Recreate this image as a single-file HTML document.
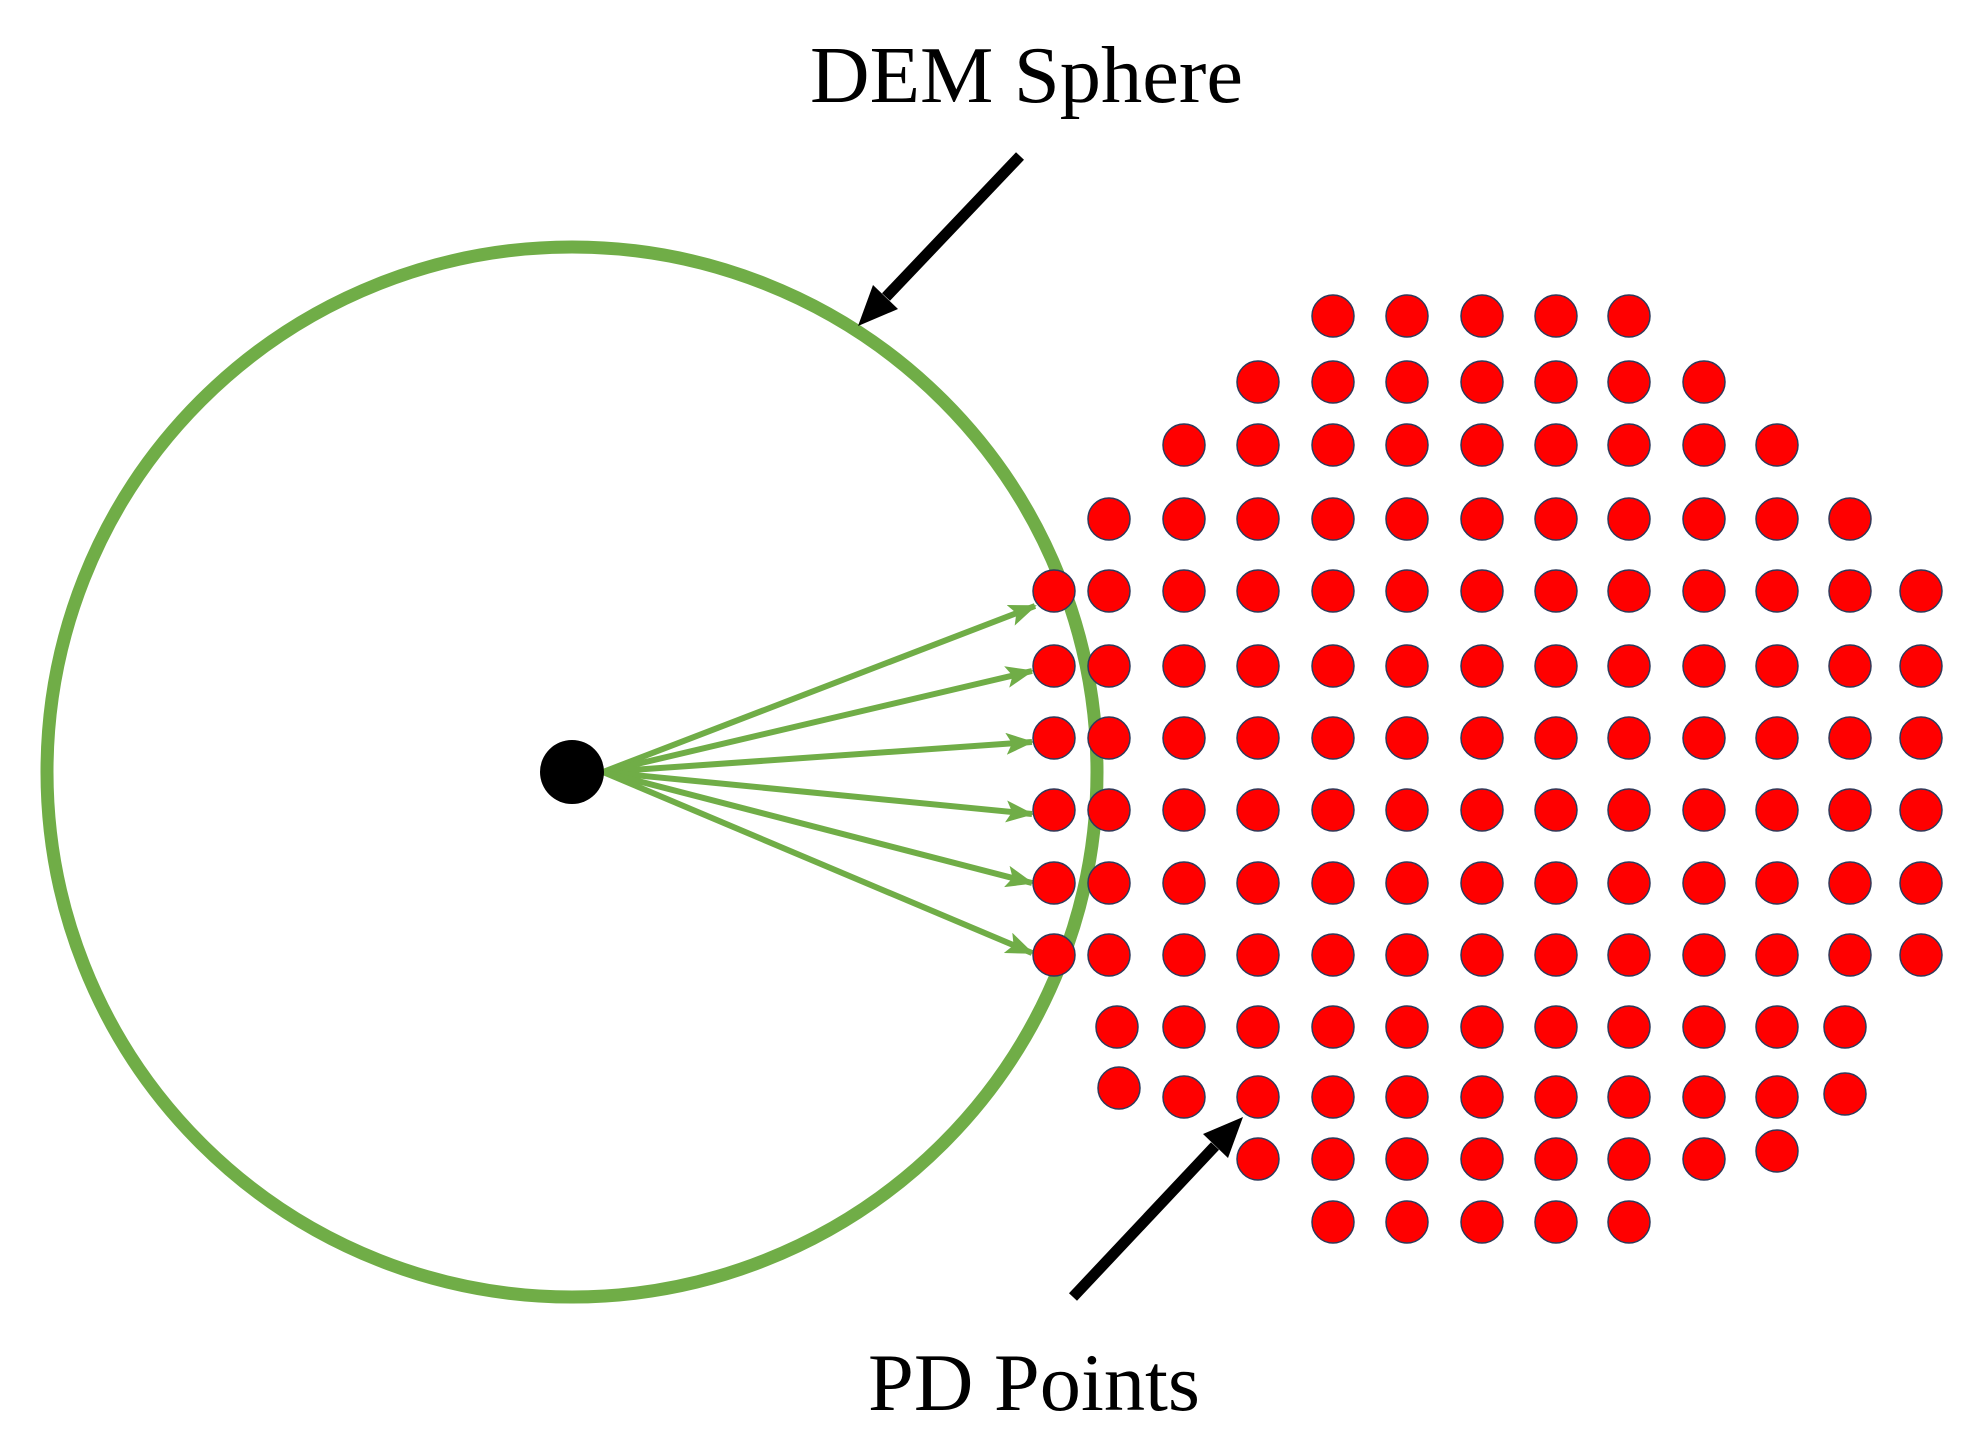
<!DOCTYPE html>
<html><head><meta charset="utf-8"><style>html,body{margin:0;padding:0;background:#fff}svg{display:block}</style></head>
<body>
<svg width="1975" height="1440" viewBox="0 0 1975 1440" xmlns="http://www.w3.org/2000/svg">
<defs>
<marker id="ga" markerUnits="userSpaceOnUse" markerWidth="28" markerHeight="22" refX="26" refY="11" orient="auto"><path d="M0,0 L28,11 L0,22 L6,11 Z" fill="#70ad47"/></marker>
</defs>
<rect width="1975" height="1440" fill="#fff"/>
<circle cx="572" cy="772" r="525" fill="none" stroke="#70ad47" stroke-width="13"/>
<g stroke="#70ad47" stroke-width="6" marker-end="url(#ga)">
<line x1="603" y1="772" x2="1035" y2="606"/>
<line x1="603" y1="772" x2="1032" y2="671"/>
<line x1="603" y1="772" x2="1032" y2="742"/>
<line x1="603" y1="772" x2="1032" y2="814"/>
<line x1="603" y1="772" x2="1032" y2="883"/>
<line x1="603" y1="772" x2="1032" y2="953"/>
</g>
<circle cx="572" cy="772" r="32" fill="#000"/>
<line x1="1020" y1="156" x2="886" y2="297" stroke="#000" stroke-width="11"/>
<polygon points="858,326 898,309 873,285" fill="#000"/>
<line x1="1073" y1="1297" x2="1215" y2="1146" stroke="#000" stroke-width="11"/>
<polygon points="1243,1117 1228,1158 1203,1134" fill="#000"/>
<text x="810" y="102" font-family="Liberation Serif, serif" font-size="80" textLength="433" lengthAdjust="spacingAndGlyphs">DEM Sphere</text>
<text x="868" y="1410" font-family="Liberation Serif, serif" font-size="82" textLength="332" lengthAdjust="spacingAndGlyphs">PD Points</text>
<g fill="#ff0000" stroke="#2f3a5a" stroke-width="1.5">
<circle cx="1333" cy="316" r="21"/><circle cx="1407" cy="316" r="21"/><circle cx="1482" cy="316" r="21"/><circle cx="1556" cy="316" r="21"/><circle cx="1629" cy="316" r="21"/>
<circle cx="1258" cy="382" r="21"/><circle cx="1333" cy="382" r="21"/><circle cx="1407" cy="382" r="21"/><circle cx="1482" cy="382" r="21"/><circle cx="1556" cy="382" r="21"/><circle cx="1629" cy="382" r="21"/><circle cx="1704" cy="382" r="21"/>
<circle cx="1184" cy="445" r="21"/><circle cx="1258" cy="445" r="21"/><circle cx="1333" cy="445" r="21"/><circle cx="1407" cy="445" r="21"/><circle cx="1482" cy="445" r="21"/><circle cx="1556" cy="445" r="21"/><circle cx="1629" cy="445" r="21"/><circle cx="1704" cy="445" r="21"/><circle cx="1777" cy="445" r="21"/>
<circle cx="1109" cy="519" r="21"/><circle cx="1184" cy="519" r="21"/><circle cx="1258" cy="519" r="21"/><circle cx="1333" cy="519" r="21"/><circle cx="1407" cy="519" r="21"/><circle cx="1482" cy="519" r="21"/><circle cx="1556" cy="519" r="21"/><circle cx="1629" cy="519" r="21"/><circle cx="1704" cy="519" r="21"/><circle cx="1777" cy="519" r="21"/><circle cx="1850" cy="519" r="21"/>
</g>
<g fill="#ff0000" stroke="#2f3a5a" stroke-width="1.5">
<g id="r4"><circle cx="1054" cy="591" r="21"/><circle cx="1109" cy="591" r="21"/><circle cx="1184" cy="591" r="21"/><circle cx="1258" cy="591" r="21"/><circle cx="1333" cy="591" r="21"/><circle cx="1407" cy="591" r="21"/><circle cx="1482" cy="591" r="21"/><circle cx="1556" cy="591" r="21"/><circle cx="1629" cy="591" r="21"/><circle cx="1704" cy="591" r="21"/><circle cx="1777" cy="591" r="21"/><circle cx="1850" cy="591" r="21"/><circle cx="1921" cy="591" r="21"/></g>
<use href="#r4" y="75"/><use href="#r4" y="147"/><use href="#r4" y="219"/><use href="#r4" y="292"/><use href="#r4" y="364"/>
<circle cx="1117" cy="1027" r="21"/><circle cx="1184" cy="1027" r="21"/><circle cx="1258" cy="1027" r="21"/><circle cx="1333" cy="1027" r="21"/><circle cx="1407" cy="1027" r="21"/><circle cx="1482" cy="1027" r="21"/><circle cx="1556" cy="1027" r="21"/><circle cx="1629" cy="1027" r="21"/><circle cx="1704" cy="1027" r="21"/><circle cx="1777" cy="1027" r="21"/><circle cx="1845" cy="1027" r="21"/>
<circle cx="1119" cy="1088" r="21"/><circle cx="1184" cy="1097" r="21"/><circle cx="1258" cy="1097" r="21"/><circle cx="1333" cy="1097" r="21"/><circle cx="1407" cy="1097" r="21"/><circle cx="1482" cy="1097" r="21"/><circle cx="1556" cy="1097" r="21"/><circle cx="1629" cy="1097" r="21"/><circle cx="1704" cy="1097" r="21"/><circle cx="1777" cy="1097" r="21"/><circle cx="1845" cy="1094" r="21"/>
<circle cx="1258" cy="1159" r="21"/><circle cx="1333" cy="1159" r="21"/><circle cx="1407" cy="1159" r="21"/><circle cx="1482" cy="1159" r="21"/><circle cx="1556" cy="1159" r="21"/><circle cx="1629" cy="1159" r="21"/><circle cx="1704" cy="1159" r="21"/><circle cx="1777" cy="1151" r="21"/>
<circle cx="1333" cy="1222" r="21"/><circle cx="1407" cy="1222" r="21"/><circle cx="1482" cy="1222" r="21"/><circle cx="1556" cy="1222" r="21"/><circle cx="1629" cy="1222" r="21"/>
</g>
</svg>
</body></html>
